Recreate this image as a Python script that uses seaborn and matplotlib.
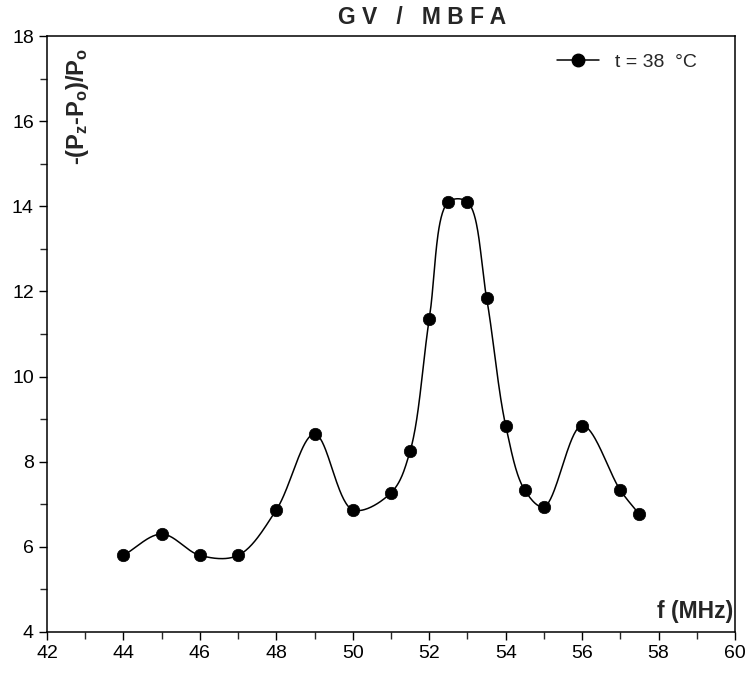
import numpy as np
import pandas as pd
import seaborn as sns
import matplotlib
matplotlib.use("Agg")
import matplotlib.pyplot as plt
from matplotlib.lines import Line2D
from matplotlib.ticker import MultipleLocator

# data
freq_mhz = [44, 45, 46, 47, 48, 49, 50, 51, 51.5, 52, 52.5, 53, 53.5, 54, 54.5, 55, 56, 57, 57.5]
ratio = [5.8, 6.3, 5.8, 5.8, 6.87, 8.65, 6.87, 7.27, 8.25, 11.35, 14.1, 14.1, 11.85, 8.85, 7.33, 6.94, 8.85, 7.33, 6.76]
legend_label = "t = 38  \u00b0C"
title = "G V   /   M B F A"


def catmull_rom(ax, x, y, steps=40, alpha=0.5):
    """Centripetal Catmull-Rom curve through the points, built in screen space."""
    pts = ax.transData.transform(np.column_stack([x, y]))
    # phantom end points by reflection
    pts = np.vstack([2 * pts[0] - pts[1], pts, 2 * pts[-1] - pts[-2]])
    d = np.hypot(*np.diff(pts, axis=0).T) ** alpha
    t = np.concatenate([[0], np.cumsum(d)])
    out = []
    for i in range(1, len(pts) - 2):
        p0, p1, p2, p3 = pts[i - 1:i + 3]
        t0, t1, t2, t3 = t[i - 1:i + 3]
        m1 = (p1 - p0) / (t1 - t0) - (p2 - p0) / (t2 - t0) + (p2 - p1) / (t2 - t1)
        m2 = (p2 - p1) / (t2 - t1) - (p3 - p1) / (t3 - t1) + (p3 - p2) / (t3 - t2)
        m1 = m1 * (t2 - t1)
        m2 = m2 * (t2 - t1)
        s = np.linspace(0, 1, steps)[:, None]
        h00 = 2 * s ** 3 - 3 * s ** 2 + 1
        h10 = s ** 3 - 2 * s ** 2 + s
        h01 = -2 * s ** 3 + 3 * s ** 2
        h11 = s ** 3 - s ** 2
        out.append(h00 * p1 + h10 * m1 + h01 * p2 + h11 * m2)
    out = np.vstack(out)
    back = ax.transData.inverted().transform(out)
    return back[:, 0], back[:, 1]


sns.set_style("ticks")
plt.rcParams["font.family"] = ["Liberation Sans", "DejaVu Sans"]
plt.rcParams["mathtext.fontset"] = "custom"
plt.rcParams["mathtext.rm"] = "Liberation Sans"
plt.rcParams["mathtext.bf"] = "Liberation Sans:bold"

df = pd.DataFrame({"f": freq_mhz, "r": ratio})

fig = plt.figure(figsize=(7.49, 6.77), dpi=100)
ax = fig.add_axes([0.0628, 0.0665, 0.9185, 0.8803])
ax.set_xlim(42, 60)
ax.set_ylim(4, 18)

cx, cy = catmull_rom(ax, df["f"].to_numpy(), df["r"].to_numpy())
curve = pd.DataFrame({"f": cx, "r": cy})

sns.lineplot(data=curve, x="f", y="r", color="black", linewidth=1.1, sort=False,
             estimator=None, ax=ax)
sns.scatterplot(data=df, x="f", y="r", color="black", s=80, edgecolor="black",
                linewidth=0.5, zorder=3, ax=ax)

ax.set_xlim(42, 60)
ax.set_ylim(4, 18)
ax.xaxis.set_major_locator(MultipleLocator(2))
ax.xaxis.set_minor_locator(MultipleLocator(1))
ax.yaxis.set_major_locator(MultipleLocator(2))
ax.yaxis.set_minor_locator(MultipleLocator(1))
ax.tick_params(which="major", direction="out", length=6, width=1, labelsize=14, colors="black")
ax.tick_params(which="minor", direction="out", length=5, width=1)
for sp in ax.spines.values():
    sp.set_visible(True)
    sp.set_linewidth(1.1)
    sp.set_color("black")

ax.set_xlabel("")
ax.set_ylabel("")
ax.text(0.997, 0.024, "f (MHz)", transform=ax.transAxes, ha="right", va="baseline",
        fontsize=16.5, fontweight="bold")
ax.text(0.044, 0.98, "$\\mathbf{\u2010(P_z\u2010P_o)/P_o}$", transform=ax.transAxes,
        rotation=90, ha="center", va="top", fontsize=17)
fig.text(0.5634, 0.9645, title, ha="center", va="baseline", fontsize=16.5, fontweight="bold")

handle = Line2D([], [], color="black", linewidth=1.1, marker="o", markersize=9)
ax.legend([handle], [legend_label], loc="upper right", frameon=False,
          fontsize=14, handlelength=2.2, bbox_to_anchor=(0.97, 1.0))

fig.savefig("out.png", dpi=100)
